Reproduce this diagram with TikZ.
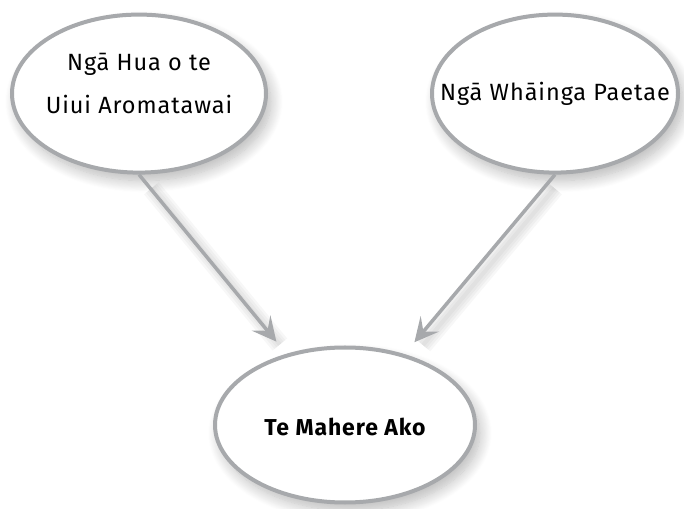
\documentclass[tikz,border=0pt]{standalone}
\usepackage{fontspec}
\setmainfont{Fira Sans}[LetterSpace=4]
\usetikzlibrary{shapes.geometric,arrows.meta,shadows.blur,backgrounds}
\definecolor{edgegray}{HTML}{A7A9AC}
\begin{document}
\begin{tikzpicture}[x=1pt,y=1pt,
  bubble/.style={ellipse, draw=edgegray, line width=4pt, fill=white,
    inner sep=0pt,
    blur shadow={shadow xshift=5pt, shadow yshift=-8pt, shadow opacity=28, shadow blur radius=12pt, shadow blur steps=14}},
  bubbletext/.style={align=center, font=\fontsize{23.5}{43}\selectfont, inner sep=0pt},
  link/.style={draw=edgegray, line width=3.5pt,
    -{Stealth[length=24pt, width=24pt, inset=10pt]}, shorten >=108pt},
  linkshadow/.style={draw=black, opacity=0.03, shorten >=112pt, shorten <=10pt}]
\useasboundingbox (0,0) rectangle (684,508);
\node[bubble, minimum width=254pt, minimum height=158pt,
  label={[bubbletext, yshift=10pt]center:Ngā Hua o te\\Uiui Aromatawai}] (l) at (139,414.4) {};
\node[bubble, minimum width=246pt, minimum height=158pt,
  label={[bubbletext]center:Ngā Whāinga Paetae}] (r) at (555,414.4) {};
\node[bubble, minimum width=260pt, minimum height=155pt,
  label={[bubbletext, yshift=-2pt, font=\fontsize{23}{24}\selectfont\bfseries]center:Te Mahere Ako}] (b) at (345,83) {};
\begin{scope}[on background layer]
\foreach \w in {4,9,14,19}{
  \draw[linkshadow, line width=\w pt, transform canvas={xshift=6pt,yshift=-6pt}] (l.south) -- (b.center);
  \draw[linkshadow, line width=\w pt, transform canvas={xshift=6pt,yshift=-6pt}] (r.south) -- (b.center);
}
\end{scope}
\draw[link] (l.south) -- (b.center);
\draw[link] (r.south) -- (b.center);
\end{tikzpicture}
\end{document}
